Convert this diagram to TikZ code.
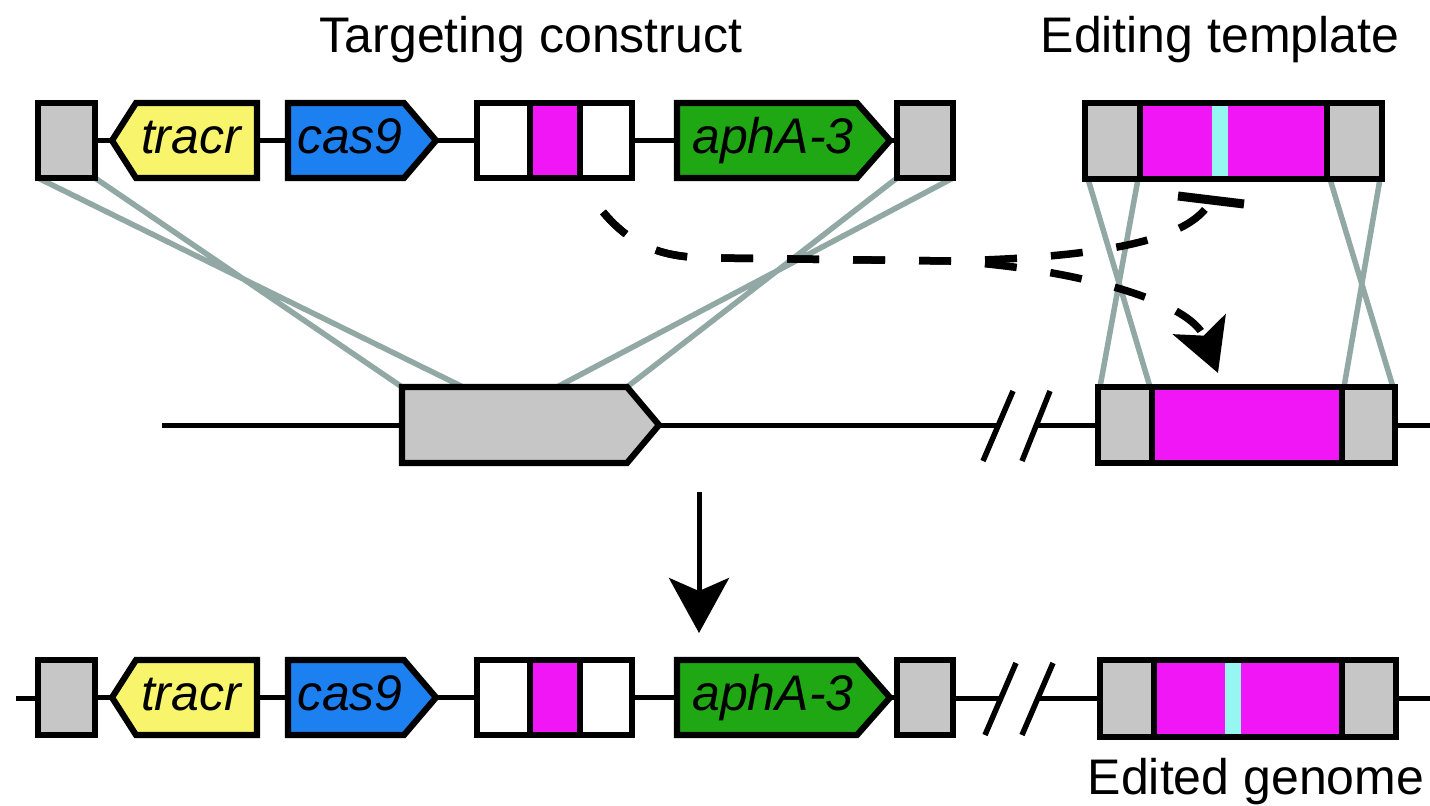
\documentclass[tikz,border=0pt]{standalone}
\usepackage{fontspec}
\setmainfont{Liberation Sans}
\usetikzlibrary{arrows.meta}
\definecolor{boxgrey}{HTML}{C6C6C6}
\definecolor{tracrY}{HTML}{F8F56C}
\definecolor{casB}{HTML}{1C80F0}
\definecolor{aphG}{HTML}{1FA814}
\definecolor{mag}{HTML}{F016F6}
\definecolor{cyn}{HTML}{96F6F0}
\definecolor{homol}{HTML}{91A8A5}
\newcommand\tgtconstruct{%
  \coordinate (greyL-e) at (95,140.5);
  \coordinate (tracr-w) at (112,140.5); \coordinate (tracr-e) at (257,140.5);
  \coordinate (cas-w) at (288,140.5); \coordinate (cas-e) at (436,140.5);
  \coordinate (spc-w) at (477,140.5); \coordinate (spc-e) at (632,140.5);
  \coordinate (aph-w) at (677,140.5); \coordinate (aph-e) at (890,140.5);
  \coordinate (greyR-w) at (897,140.5); \coordinate (greyR-e) at (953,140.5);
  \draw[dna] (greyL-e) -- (tracr-w) (tracr-e) -- (cas-w) (cas-e) -- (spc-w) (spc-e) -- (aph-w) (aph-e) -- (greyR-w);
  \draw[part,fill=boxgrey] (38,103) rectangle (95,178);
  \draw[part,fill=tracrY] (112,140.5) -- (136,103) -- (257,103) -- (257,178) -- (136,178) -- cycle;
  \node[lbl] (tracr) at (191,153) {tracr};
  \draw[part,fill=casB] (288,103) -- (404,103) -- (436,140.5) -- (404,178) -- (288,178) -- cycle;
  \node[lbl] (cas) at (350,153) {cas9};
  \fill[white] (477,103) rectangle (632,178);
  \fill[mag] (530,103) rectangle (580,178);
  \draw[part] (477,103) rectangle (632,178) (530,103) -- (530,178) (580,103) -- (580,178);
  \draw[part,fill=aphG] (677,103) -- (857,103) -- (890,140.5) -- (857,178) -- (677,178) -- cycle;
  \node[lbl] (aph) at (773,153) {aphA-3};
  \draw[part,fill=boxgrey] (897,103) rectangle (953,178);
}
\begin{document}
\begin{tikzpicture}[x=1pt,y=-1pt,
  part/.style={draw=black,line width=6.2pt,line join=miter},
  dna/.style={draw=black,line width=5pt},
  homline/.style={draw=homol,line width=5.5pt},
  lbl/.style={font=\fontsize{50}{60}\selectfont\itshape,inner sep=0,anchor=base},
  ttl/.style={font=\fontsize{50}{60}\selectfont,inner sep=0,anchor=base},
  dashpath/.style={line width=7.5pt,dash pattern=on 32pt off 34pt}
]
\useasboundingbox (0,0) rectangle (1430,806);
\fill[white] (0,0) rectangle (1430,806);

% titles
\node[ttl] (ttl1) at (531,52) {Targeting construct};
\node[ttl] (ttl2) at (1220,52) {Editing template};
\node[ttl] (ttl3) at (1256,794) {Edited genome};

% named corner points for homology lines
\coordinate (tL1) at (38,178);   \coordinate (tL2) at (95,178);
\coordinate (tR1) at (897,178);  \coordinate (tR2) at (953,178);
\coordinate (mg1) at (402,387);  \coordinate (mg2) at (463,387);
\coordinate (mg3) at (557,387);  \coordinate (mg4) at (627,387);
\coordinate (et1) at (1088,179); \coordinate (et2) at (1138,179);
\coordinate (et3) at (1330,179); \coordinate (et4) at (1380,179);
\coordinate (gb1) at (1100,387); \coordinate (gb2) at (1150,387);
\coordinate (gb3) at (1344,387); \coordinate (gb4) at (1393,387);

\draw[homline] (tL1) -- (mg2) (tL2) -- (mg1) (tR1) -- (mg4) (tR2) -- (mg3);
\draw[homline] (et1) -- (gb2) (et2) -- (gb1) (et3) -- (gb4) (et4) -- (gb3);

% top targeting construct
\tgtconstruct

% editing template
\fill[boxgrey] (1085,103) rectangle (1382,179);
\fill[mag] (1140,103) rectangle (1327,179);
\fill[cyn] (1212,103) rectangle (1228,179);
\draw[part] (1085,103) rectangle (1382,179) (1140,103) -- (1140,179) (1327,103) -- (1327,179);

% middle genome row
\coordinate (m-start) at (162,425);
\coordinate (mg-w) at (402,425); \coordinate (mg-e) at (659,425);
\coordinate (ms1) at (998,425); \coordinate (ms2) at (1036,425);
\coordinate (mb-w) at (1098,425); \coordinate (mb-e) at (1395,425);
\coordinate (m-end) at (1430,425);
\draw[dna] (m-start) -- (mg-w) (mg-e) -- (ms1) (ms2) -- (mb-w) (mb-e) -- (m-end);
\draw[dna,line width=5.5pt] (983,461) -- (1013,391) (1022,461) -- (1050,391);
\draw[part,fill=boxgrey] (402,387) -- (627,387) -- (659,425) -- (627,463) -- (402,463) -- cycle;
\fill[boxgrey] (1098,387) rectangle (1395,463);
\fill[mag] (1152,387) rectangle (1342,463);
\draw[part] (1098,387) rectangle (1395,463) (1152,387) -- (1152,463) (1342,387) -- (1342,463);

% dashed regulation paths
\coordinate (ds) at (603,212);
\coordinate (dsplit) at (950,261);
\coordinate (barmid) at (1211,200);
\coordinate (barL) at (1178,196);
\coordinate (barR) at (1244,204);
\coordinate (dtip) at (1218,373);
\draw[dashpath] (ds) .. controls (635,250) and (668,258) .. (715,258) -- (dsplit) .. controls (1080,258) and (1190,245) .. (barmid);
\draw[dashpath,-{Stealth[length=52pt,width=56pt,inset=12pt]}] (ds) .. controls (635,250) and (668,258) .. (715,258) -- (dsplit) .. controls (1070,268) and (1190,300) .. (dtip);
\draw[line width=9pt] (barL) -- (barR);

% down arrow
\coordinate (da-s) at (699,492);
\coordinate (da-e) at (699,633);
\draw[line width=5pt,-{Stealth[length=55pt,width=60pt,inset=13pt]}] (da-s) -- (da-e);

% bottom row
\coordinate (b-start) at (16,698.5);
\coordinate (b-greyL) at (38,698.5);
\coordinate (b-greyR) at (953,698.5);
\coordinate (bs1) at (1000,698.5); \coordinate (bs2) at (1038,698.5);
\coordinate (bb-w) at (1100,698.5); \coordinate (bb-e) at (1396,698.5);
\coordinate (b-end) at (1430,698.5);
\draw[dna] (b-start) -- (b-greyL) (b-greyR) -- (bs1) (bs2) -- (bb-w) (bb-e) -- (b-end);
\draw[dna,line width=5.5pt] (985,735) -- (1016,663) (1022,735) -- (1053,663);
\begin{scope}[yshift=-557pt,name prefix=b-]
\tgtconstruct
\end{scope}
\fill[boxgrey] (1100,660) rectangle (1396,737);
\fill[mag] (1154,660) rectangle (1342,737);
\fill[cyn] (1225,660) rectangle (1241,737);
\draw[part] (1100,660) rectangle (1396,737) (1154,660) -- (1154,737) (1342,660) -- (1342,737);
\end{tikzpicture}
\end{document}
